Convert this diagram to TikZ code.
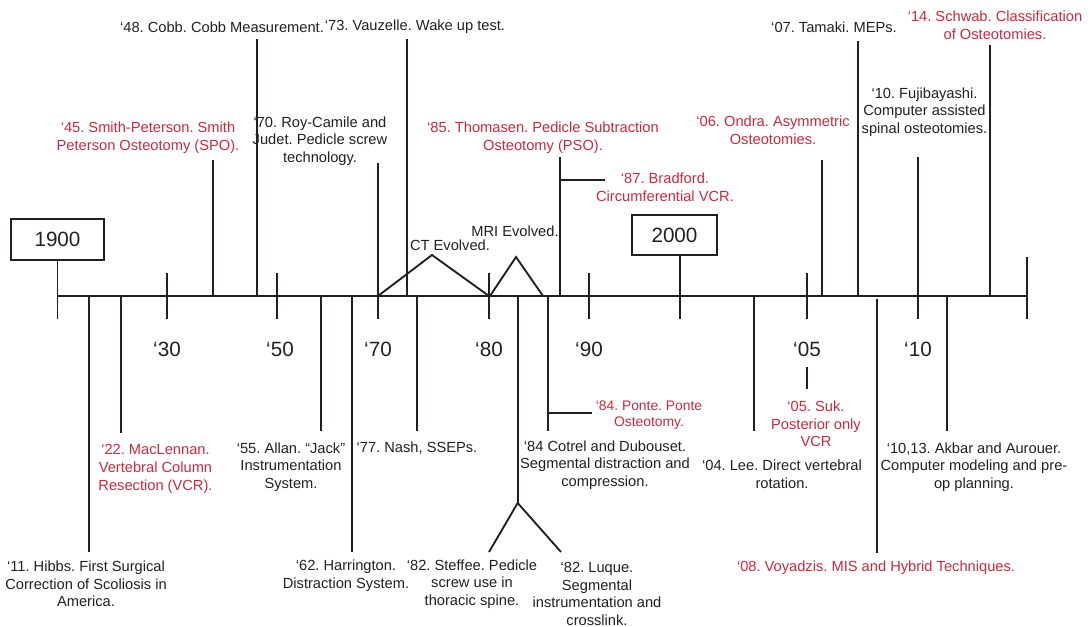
\documentclass[tikz,border=0pt]{standalone}
\usepackage{fontspec}
\setmainfont{Liberation Sans}
\definecolor{ink}{HTML}{231F20}
\definecolor{redt}{HTML}{C62B40}
\frenchspacing
\begin{document}
\begin{tikzpicture}[x=0.75pt,y=-0.75pt,
  ln/.style={line width=1.4pt, draw=ink},
  lbl/.style={inner sep=0pt, align=center, text=ink, font=\fontsize{11}{13.3}\selectfont\frenchspacing},
  rlbl/.style={lbl, text=redt},
  slbl/.style={lbl, text=redt, font=\fontsize{10.4}{12}\selectfont\frenchspacing},
  dec/.style={inner sep=0pt, text=ink, font=\fontsize{15.5}{18}\selectfont},
  yearbox/.style={draw=ink, line width=0.8pt, inner sep=0pt, text=ink, font=\fontsize{15.5}{18}\selectfont}
]
\useasboundingbox (0,0) rectangle (1090,627);

% axis
\coordinate (ax0) at (58,296);
\coordinate (axE) at (1027,296);
\draw[ln] (ax0) -- (axE);

% year boxes
\node[yearbox, minimum width=69.75pt, minimum height=30.75pt] (b1900) at (57.5,239.5) {1900};
\node[yearbox, minimum width=63.75pt, minimum height=30pt] (b2000) at (674.5,235) {2000};
\coordinate (t1900) at (57.5,319);
\coordinate (t2000) at (680,319);
\draw[ln] (b1900.south) -- (t1900);
\draw[ln] (b2000.south -| t2000) -- (t2000);
\coordinate (tEa) at (1026.7,257);
\coordinate (tEb) at (1026.7,319);
\draw[ln] (tEa) -- (tEb);

% decade ticks and labels
\foreach \x/\n in {166.7/30, 277.3/50, 378/70, 488.7/80, 588.7/90, 807.3/05, 917.7/10}{
  \coordinate (ta\n) at (\x,273);
  \coordinate (tb\n) at (\x,319);
  \draw[ln] (ta\n) -- (tb\n);
}
\node[dec] (d30) at (167,349) {‘30};
\node[dec] (d50) at (280,349) {‘50};
\node[dec] (d70) at (378,349) {‘70};
\node[dec] (d80) at (489,349) {‘80};
\node[dec] (d90) at (589,349) {‘90};
\node[dec] (d05) at (807,349) {‘05};
\node[dec] (d10) at (918,349) {‘10};

% ---------- events above the axis ----------
\node[lbl] (n48) at (222,27) {‘48. Cobb. Cobb Measurement.};
\coordinate (a48) at (256.7,296); \coordinate (e48) at (256.7,39);
\draw[ln] (a48) -- (e48);

\node[lbl] (n73) at (415,27) {‘73. Vauzelle. Wake up test.};
\coordinate (a73) at (406.7,296); \coordinate (e73) at (406.7,39);
\draw[ln] (a73) -- (e73);

\node[rlbl] (n45) at (148,138) {‘45. Smith-Peterson. Smith\\Peterson Osteotomy (SPO).};
\coordinate (a45) at (213.3,296); \coordinate (e45) at (213.3,160);
\draw[ln] (a45) -- (e45);

\node[lbl] (n70) at (320,141) {‘70. Roy-Camile and\\Judet. Pedicle screw\\technology.};
\coordinate (a70) at (378,296); \coordinate (e70) at (378,163);
\draw[ln] (a70) -- (e70);

\node[rlbl] (n85) at (543,138) {‘85. Thomasen. Pedicle Subtraction\\Osteotomy (PSO).};
\coordinate (a85) at (560,296); \coordinate (e85) at (560,157);
\draw[ln] (a85) -- (e85);
\node[rlbl] (n87) at (665,187) {‘87. Bradford.\\Circumferential VCR.};
\coordinate (b87) at (560,180); \coordinate (e87) at (605,180);
\draw[ln] (b87) -- (e87);

\node[rlbl] (n06) at (773,130) {‘06. Ondra. Asymmetric\\Osteotomies.};
\coordinate (a06) at (821.7,296); \coordinate (e06) at (821.7,160);
\draw[ln] (a06) -- (e06);

\node[lbl] (n07) at (834,27) {‘07. Tamaki. MEPs.};
\coordinate (a07) at (857.7,296); \coordinate (e07) at (857.7,41);
\draw[ln] (a07) -- (e07);

\node[lbl] (n10) at (924.5,112) {‘10. Fujibayashi.\\Computer assisted\\spinal osteotomies.};
\coordinate (a10) at (917.7,296); \coordinate (e10) at (917.7,157);
\draw[ln] (a10) -- (e10);

\node[rlbl] (n14) at (995,25) {‘14. Schwab. Classification\\of Osteotomies.};
\coordinate (a14) at (990,296); \coordinate (e14) at (990,45);
\draw[ln] (a14) -- (e14);

% CT and MRI
\node[lbl] (nCT) at (450,245) {CT Evolved.};
\coordinate (ct1) at (378,296); \coordinate (ct2) at (432,255); \coordinate (ct3) at (489,296);
\draw[ln, line join=miter] (ct1) -- (ct2) -- (ct3);
\node[lbl] (nMRI) at (515,231) {MRI Evolved.};
\coordinate (mr1) at (490,296); \coordinate (mr2) at (516,257); \coordinate (mr3) at (543,296);
\draw[ln, line join=miter] (mr1) -- (mr2) -- (mr3);

% ---------- events below the axis ----------
\node[lbl] (n11) at (86,584) {‘11. Hibbs. First Surgical\\Correction of Scoliosis in\\America.};
\coordinate (a11) at (89,296); \coordinate (e11) at (89,552);
\draw[ln] (a11) -- (e11);

\node[rlbl] (n22) at (155.5,469) {‘22. MacLennan.\\Vertebral Column\\Resection (VCR).};
\coordinate (a22) at (121,296); \coordinate (e22) at (121,433);
\draw[ln] (a22) -- (e22);

\node[lbl] (n55) at (291,467) {‘55. Allan. “Jack”\\Instrumentation\\System.};
\coordinate (a55) at (321,296); \coordinate (e55) at (321,431);
\draw[ln] (a55) -- (e55);

\node[lbl] (n62) at (346,576) {‘62. Harrington.\\Distraction System.};
\coordinate (a62) at (351.7,296); \coordinate (e62) at (351.7,552);
\draw[ln] (a62) -- (e62);

\node[lbl] (n77) at (417,448) {‘77. Nash, SSEPs.};
\coordinate (a77) at (416.7,296); \coordinate (e77) at (416.7,431);
\draw[ln] (a77) -- (e77);

\node[lbl] (n82s) at (472,584) {‘82. Steffee. Pedicle\\screw use in\\thoracic spine.};
\node[lbl] (n82l) at (597,594) {‘82. Luque.\\Segmental\\instrumentation and\\crosslink.};
\coordinate (a82) at (517.7,296); \coordinate (f82) at (517.7,503);
\coordinate (s82) at (489,552); \coordinate (l82) at (561,552);
\draw[ln] (a82) -- (f82);
\draw[ln, line join=miter] (s82) -- (f82) -- (l82);

\node[lbl] (n84) at (605,465) {‘84 Cotrel and Dubouset.\\Segmental distraction and\\compression.};
\coordinate (a84) at (547.7,296); \coordinate (e84) at (547.7,431);
\draw[ln] (a84) -- (e84);
\node[slbl] (n84p) at (649,415) {‘84. Ponte. Ponte\\Osteotomy.};
\coordinate (b84) at (547.7,413); \coordinate (p84) at (592,413);
\draw[ln] (b84) -- (p84);

\node[lbl] (n04) at (782,474) {‘04. Lee. Direct vertebral\\rotation.};
\coordinate (a04) at (754,296); \coordinate (e04) at (754,431);
\draw[ln] (a04) -- (e04);

\node[rlbl] (n05) at (816,424) {‘05. Suk.\\Posterior only\\VCR};
\coordinate (s05a) at (807.3,367); \coordinate (s05b) at (807.3,389);
\draw[ln] (s05a) -- (s05b);

\node[rlbl] (n08) at (876,568) {‘08. Voyadzis. MIS and Hybrid Techniques.};
\coordinate (a08) at (876.7,299); \coordinate (e08) at (876.7,553);
\draw[ln] (a08) -- (e08);

\node[lbl] (n1013) at (974,467) {‘10,13. Akbar and Aurouer.\\Computer modeling and pre-\\op planning.};
\coordinate (a1013) at (947,296); \coordinate (e1013) at (947,431);
\draw[ln] (a1013) -- (e1013);
\end{tikzpicture}
\end{document}
